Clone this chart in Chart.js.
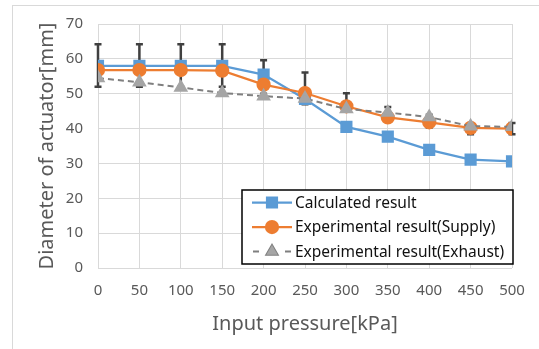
<!DOCTYPE html>
<html>
<head>
<meta charset="utf-8">
<script src="https://cdn.jsdelivr.net/npm/chart.js@4/dist/chart.umd.min.js"></script>
<style>
  html, body { margin: 0; padding: 0; background: #fff; }
  #wrap { position: relative; width: 539px; height: 349px; overflow: hidden; }
  #frame { position: absolute; left: 12px; top: 5px; width: 600px; height: 400px; border: 1px solid #d9d9d9; }
  #chart { position: absolute; left: 0; top: 0; }
</style>
</head>
<body>
<div id="wrap">
  <div id="frame"></div>
  <canvas id="chart" width="539" height="349"></canvas>
</div>
<script>
const pressures = [0, 50, 100, 150, 200, 250, 300, 350, 400, 450, 500];
const calculated = [58, 58, 58, 58, 55.5, 48.5, 40.5, 37.7, 33.9, 31.1, 30.6];
const supply = [56.8, 56.8, 56.8, 56.6, 52.6, 50.2, 46.4, 43.2, 41.8, 40.2, 40.0];
const exhaust = [54.5, 53.3, 51.8, 50.2, 49.3, 48.6, 45.6, 44.6, 43.3, 40.7, 40.5];
const errHigh = [64.2, 64.2, 64.2, 64.2, 59.6, 56.1, 50.1, 46.2, 44.0, 41.2, 41.6];
const errLow = [52.0, 52.0, 52.0, 52.0, 50.0, 47.0, 45.0, 42.0, 40.3, 38.4, 38.4];
const yTicks = [0, 10, 20, 30, 40, 50, 60, 70];

const labelFont = '"Noto Sans", "Open Sans", sans-serif';
const textGrey = '#595959';

// error bars go under the markers
const errorBars = {
  id: 'errorBars',
  beforeDatasetsDraw(chart) {
    const { ctx, scales: { x, y } } = chart;
    ctx.save();
    ctx.strokeStyle = '#404040';
    ctx.lineWidth = 2.5;
    pressures.forEach((p, i) => {
      const px = x.getPixelForValue(p);
      const top = y.getPixelForValue(errHigh[i]);
      const bot = y.getPixelForValue(errLow[i]);
      ctx.beginPath();
      ctx.moveTo(px, top); ctx.lineTo(px, bot);
      ctx.moveTo(px - 3.5, top); ctx.lineTo(px + 3.5, top);
      ctx.moveTo(px - 3.5, bot); ctx.lineTo(px + 3.5, bot);
      ctx.stroke();
    });
    ctx.restore();
  }
};

// boxed legend sitting inside the plot area
const boxLegend = {
  id: 'boxLegend',
  afterDraw(chart) {
    const ctx = chart.ctx;
    const left = 242, top = 190, w = 271, h = 74;
    ctx.save();
    ctx.setLineDash([]);
    ctx.fillStyle = '#fff';
    ctx.fillRect(left, top, w, h);
    ctx.strokeStyle = '#000';
    ctx.lineWidth = 1.5;
    ctx.strokeRect(left, top, w, h);
    ctx.font = '15.5px ' + labelFont;
    ctx.textBaseline = 'middle';
    chart.data.datasets.forEach((ds, i) => {
      const cy = top + 12.5 + i * 24.5;
      ctx.setLineDash([]);
      ctx.strokeStyle = ds.borderColor;
      ctx.lineWidth = ds.borderWidth;
      ctx.beginPath();
      if (ds.borderDash) {
        ctx.moveTo(253, cy); ctx.lineTo(259, cy);
        ctx.moveTo(285, cy); ctx.lineTo(291, cy);
      } else {
        ctx.moveTo(252, cy); ctx.lineTo(292, cy);
      }
      ctx.stroke();
      Chart.helpers.drawPoint(ctx, {
        pointStyle: ds.pointStyle, radius: ds.pointRadius, borderWidth: 1
      }, 272, cy);
      ctx.fillStyle = ds.pointBackgroundColor;
      ctx.strokeStyle = ds.pointBorderColor;
      ctx.fill();
      ctx.fillStyle = '#111';
      ctx.fillText(ds.label, 295, cy + 1);
    });
    ctx.restore();
  }
};

new Chart(document.getElementById('chart'), {
  type: 'line',
  data: {
    labels: pressures,
    datasets: [{
      label: 'Calculated result',
      data: calculated,
      borderColor: '#5B9BD5',
      borderWidth: 2.25,
      pointStyle: 'rect',
      pointRadius: 7,
      pointBackgroundColor: '#5B9BD5',
      pointBorderColor: '#5B9BD5',
      order: 3
    }, {
      label: 'Experimental result(Supply)',
      data: supply,
      borderColor: '#ED7D31',
      borderWidth: 2.25,
      pointStyle: 'circle',
      pointRadius: 6,
      pointBackgroundColor: '#ED7D31',
      pointBorderColor: '#ED7D31',
      order: 2
    }, {
      label: 'Experimental result(Exhaust)',
      data: exhaust,
      borderColor: '#7F7F7F',
      borderWidth: 2,
      borderDash: [6, 4],
      pointStyle: 'triangle',
      pointRadius: 6.5,
      pointBackgroundColor: '#A5A5A5',
      pointBorderColor: '#A5A5A5',
      order: 1
    }]
  },
  options: {
    responsive: false,
    animation: false,
    layout: { padding: { left: 0, top: 24, right: 27, bottom: 0 } },
    plugins: { legend: { display: false }, tooltip: { enabled: false } },
    scales: {
      x: {
        type: 'linear',
        min: 0, max: 500,
        afterBuildTicks(scale) { scale.ticks = pressures.map(v => ({ value: v })); },
        afterFit(scale) { scale.height = 81; },
        grid: { color: '#d9d9d9', lineWidth: 1, drawTicks: false },
        border: { display: false },
        ticks: { color: textGrey, font: { family: labelFont, size: 15 }, padding: 14, maxRotation: 0 },
        title: { display: true, text: 'Input pressure[kPa]', color: textGrey,
                 font: { family: labelFont, size: 20 }, padding: { top: 0, bottom: 13 } }
      },
      y: {
        min: 0, max: 70,
        afterBuildTicks(scale) { scale.ticks = yTicks.map(v => ({ value: v })); },
        afterFit(scale) { scale.width = 98; },
        grid: { color: '#d9d9d9', lineWidth: 1, drawTicks: false },
        border: { display: false },
        ticks: { color: textGrey, font: { family: labelFont, size: 15 }, padding: 15 },
        title: { display: true, text: 'Diameter of actuator[mm]', color: textGrey,
                 font: { family: labelFont, size: 20 }, padding: { top: 35, bottom: 0 } }
      }
    }
  },
  plugins: [errorBars, boxLegend]
});
</script>
</body>
</html>
